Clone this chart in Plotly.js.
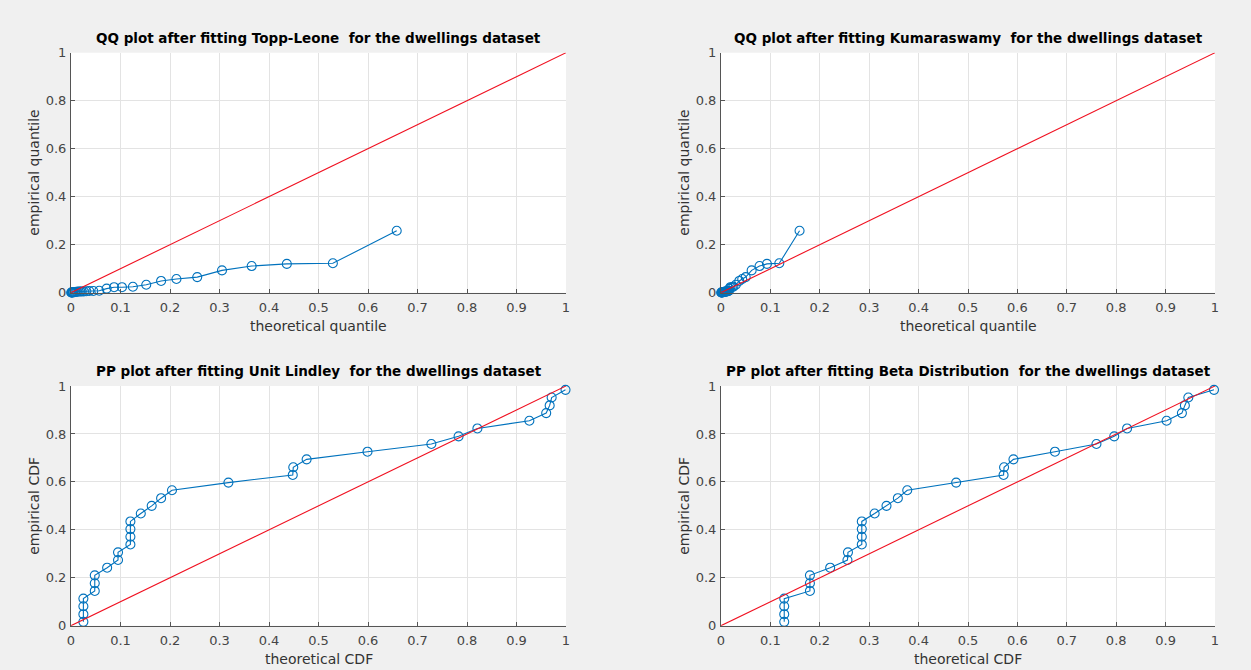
<!DOCTYPE html>
<html>
<head>
<meta charset="utf-8">
<script src="https://cdn.plot.ly/plotly-3.0.1.min.js"></script>
<style>html,body{margin:0;padding:0;background:#f0f0f0;}</style>
</head>
<body>
<div id="chart" style="width:1251px;height:670px;"></div>
<script>
// Empirical quantiles (sorted dwellings data), shared by both QQ plots
var empQuantile = [0.001,0.001,0.001,0.001,0.002,0.002,0.002,0.003,0.004,0.004,0.005,0.005,0.005,0.005,0.006,0.007,0.007,0.008,0.017,0.023,0.023,0.025,0.033,0.049,0.057,0.065,0.093,0.111,0.120,0.1225,0.258];
// Theoretical quantiles, Topp-Leone fit
var theoQToppLeone = [0.0005,0.001,0.002,0.003,0.004,0.005,0.007,0.009,0.011,0.013,0.016,0.019,0.022,0.026,0.031,0.037,0.045,0.057,0.072,0.087,0.103,0.125,0.152,0.182,0.213,0.255,0.305,0.365,0.436,0.529,0.658];
// Theoretical quantiles, Kumaraswamy fit
var theoQKumaraswamy = [0.0005,0.001,0.0015,0.002,0.003,0.004,0.005,0.006,0.007,0.008,0.009,0.010,0.011,0.012,0.013,0.014,0.015,0.016,0.017,0.019,0.022,0.025,0.030,0.037,0.043,0.050,0.062,0.078,0.093,0.118,0.159];
// Empirical CDF values, shared by both PP plots
var empCDF = [0.016,0.048,0.081,0.113,0.145,0.177,0.210,0.242,0.274,0.306,0.339,0.371,0.403,0.435,0.468,0.500,0.532,0.565,0.597,0.629,0.661,0.694,0.726,0.758,0.790,0.823,0.855,0.887,0.919,0.952,0.984];
// Theoretical CDF, Unit Lindley fit
var theoCDFUnitLindley = [0.025,0.025,0.025,0.025,0.048,0.048,0.048,0.073,0.095,0.095,0.120,0.120,0.120,0.120,0.141,0.163,0.182,0.204,0.318,0.448,0.449,0.476,0.599,0.728,0.783,0.821,0.926,0.960,0.967,0.971,0.999];
// Theoretical CDF, Beta fit
var theoCDFBeta = [0.128,0.128,0.128,0.128,0.180,0.180,0.180,0.221,0.256,0.257,0.285,0.285,0.285,0.285,0.311,0.335,0.358,0.377,0.476,0.572,0.573,0.592,0.676,0.760,0.796,0.822,0.902,0.933,0.939,0.946,0.998];
// Reference line y = x
var refX = [0, 1];
var refY = [0, 1];

var xTickVals = [0,0.1,0.2,0.3,0.4,0.5,0.6,0.7,0.8,0.9,1];
var xTickText = ["0","0.1","0.2","0.3","0.4","0.5","0.6","0.7","0.8","0.9","1"];
var yTickVals = [0,0.2,0.4,0.6,0.8,1];
var yTickText = ["0","0.2","0.4","0.6","0.8","1"];

var panelTitles = [
  "QQ plot after fitting Topp-Leone\u00a0 for the dwellings dataset",
  "QQ plot after fitting Kumaraswamy\u00a0 for the dwellings dataset",
  "PP plot after fitting Unit Lindley\u00a0 for the dwellings dataset",
  "PP plot after fitting Beta Distribution\u00a0 for the dwellings dataset"
];
var xTitles = ["theoretical quantile","theoretical quantile","theoretical CDF","theoretical CDF"];
var yTitles = ["empirical quantile","empirical quantile","empirical CDF","empirical CDF"];

var blue = '#0072BD';
var FONT = 'DejaVu Sans';

function dataTrace(x, y, n) {
  return {
    x: x, y: y, type: 'scatter', mode: 'lines+markers',
    xaxis: 'x' + (n === 1 ? '' : n), yaxis: 'y' + (n === 1 ? '' : n),
    line: {color: blue, width: 1.1},
    marker: {symbol: 'circle-open', size: 9, color: blue, line: {width: 1.1, color: blue}},
    cliponaxis: false, hoverinfo: 'x+y'
  };
}
function refTrace(n) {
  return {
    x: refX, y: refY, type: 'scatter', mode: 'lines',
    xaxis: 'x' + (n === 1 ? '' : n), yaxis: 'y' + (n === 1 ? '' : n),
    line: {color: '#f01020', width: 1.1}, cliponaxis: false, hoverinfo: 'skip'
  };
}

var traces = [
  dataTrace(theoQToppLeone, empQuantile, 1), refTrace(1),
  dataTrace(theoQKumaraswamy, empQuantile, 2), refTrace(2),
  dataTrace(theoCDFUnitLindley, empCDF, 3), refTrace(3),
  dataTrace(theoCDFBeta, empCDF, 4), refTrace(4)
];

var W = 1251, H = 670;
var xDomains = [[71/W, 566/W], [721/W, 1215/W]];
var yDomains = [[(H-292.7)/H, (H-52.7)/H], [(H-625.7)/H, (H-386)/H]];

function axisBase() {
  return {
    range: [0, 1], fixedrange: true,
    ticks: 'inside', ticklen: 4, tickwidth: 1, tickcolor: '#555555',
    showline: true, linecolor: '#555555', linewidth: 1, mirror: false,
    showgrid: true, gridcolor: '#e3e3e3', gridwidth: 1, zeroline: false,
    tickfont: {family: FONT, size: 13, color: '#454545'}
  };
}

var layout = {
  width: W, height: H,
  margin: {l: 0, r: 0, t: 0, b: 0},
  paper_bgcolor: '#f0f0f0', plot_bgcolor: '#ffffff',
  showlegend: false,
  annotations: []
};

for (var i = 0; i < 4; i++) {
  var n = i + 1;
  var sfx = n === 1 ? '' : String(n);
  var xa = axisBase(), ya = axisBase();
  xa.domain = xDomains[i % 2];
  ya.domain = yDomains[Math.floor(i / 2)];
  xa.anchor = 'y' + sfx; ya.anchor = 'x' + sfx;
  xa.tickvals = xTickVals; xa.ticktext = xTickText;
  ya.tickvals = yTickVals; ya.ticktext = yTickText;
  xa.ticklabelstandoff = 3;
  ya.ticklabelstandoff = 1;
  layout['xaxis' + sfx] = xa;
  layout['yaxis' + sfx] = ya;
  var xr = 'x' + sfx + ' domain', yr = 'y' + sfx + ' domain';
  layout.annotations.push({
    text: '<b>' + panelTitles[i] + '</b>', xref: xr, yref: yr, x: 0.5, y: 1,
    xanchor: 'center', yanchor: 'middle', yshift: 15, showarrow: false,
    font: {family: FONT, size: 13.5, color: '#000000'}
  });
  layout.annotations.push({
    text: xTitles[i], xref: xr, yref: yr, x: 0.5, y: 0,
    xanchor: 'center', yanchor: 'middle', yshift: -33, showarrow: false,
    font: {family: FONT, size: 14, color: '#333333'}
  });
  layout.annotations.push({
    text: yTitles[i], xref: xr, yref: yr, x: 0, y: 0.5, textangle: -90,
    xanchor: 'center', yanchor: 'middle', xshift: -37, showarrow: false,
    font: {family: FONT, size: 14, color: '#333333'}
  });
}

Plotly.newPlot('chart', traces, layout, {displayModeBar: false, staticPlot: true});
</script>
</body>
</html>
